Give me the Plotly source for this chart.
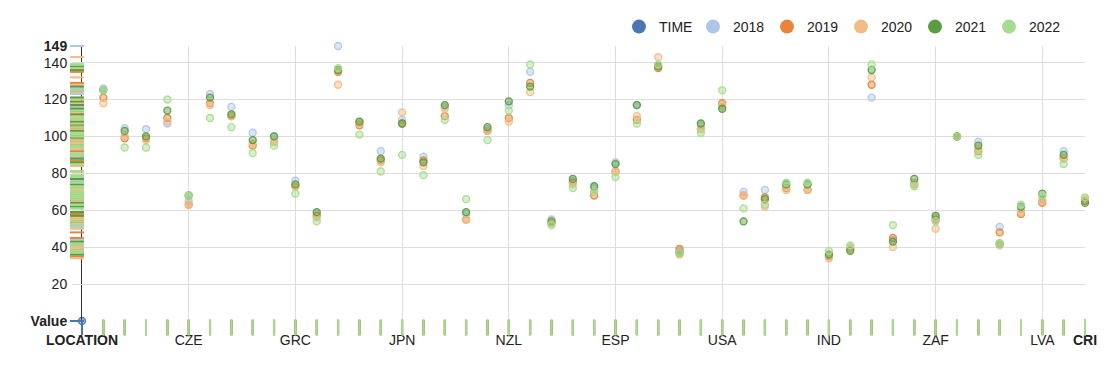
import plotly.graph_objects as go

W, H = 1113, 375
OFF = 8  # page offset of the figure inside the browser window

categories = ["AUS","AUT","BEL","CAN","CZE","DNK","FIN","FRA","DEU","GRC",
              "HUN","ISL","IRL","ITA","JPN","KOR","LUX","MEX","NLD","NZL",
              "NOR","POL","PRT","SVK","ESP","SWE","CHE","TUR","GBR","USA",
              "BRA","CHL","CHN","EST","IND","IDN","ISR","RUS","SVN","ZAF",
              "COL","LTU","ARG","BGR","LVA","ROU","CRI"]

v2018 = [126,104.5,104,107,65,123,116,102,100,76,58,149,108,92,109,89,116,58,104,117,
         135,55,76,72,86,117,138,38,106,116,70,71,74,74,36,40,121,44,75,56,
         100,97,51,61,66,92,65]
v2019 = [121,99,99,110,63,118,111,95,97,73,57,135,106,87,107,87,111,55,103,110,
         129,53,75,68,81,109,137,39,104,118,68,67,72,71,35,39,128,45,74,55,
         100,92,48,58,64,88,65]
v2020 = [118,100,98,108,63,117,111,96,97,73,56,128,107,86,113,84,115,55,103,108,
         124,53,74,70,81,111,143,36,104,117,68,62,71,71,34,39,132,40,74,50,
         100,93,41,59,65,88,66]
v2021 = [125,103,100,114,68,121,112,98,100,74,59,136,108,88,107,86,117,59,105,119,
         127,54,77,73,85,117,138,37,107,115,54,66,74,74,36,38,136,43,77,57,
         100,95,42,62,69,90,64]
v2022 = [125,94,94,120,68,110,105,91,95,69,54,137,101,81,90,79,109,66,98,114,
         139,52,72,70,78,107,139,37,102,125,61,63,75,75,38,41,139,52,73,54,
         100,90,42,63,68,85,67]
time_values = [0]

series_names = ["2018", "2019", "2020", "2021", "2022"]
series_values = [v2018, v2019, v2020, v2021, v2022]
colors = {"TIME": (74, 118, 178), "2018": (174, 199, 232), "2019": (232, 132, 59),
          "2020": (240, 189, 134), "2021": (90, 158, 63), "2022": (168, 219, 145)}

axis_label_x = "LOCATION"
axis_label_y = "Value"
y_max = max(max(s) for s in series_values)
y_ticks = [20, 40, 60, 80, 100, 120, 140]
x_label_idx = [0, 5, 10, 15, 20, 25, 30, 35, 40, 45, len(categories)]

def rgba(c, a):
    return f"rgba({c[0]},{c[1]},{c[2]},{a})"

def fx(px):
    return (px - OFF) / W

def fy(py):
    return 1 - (py - OFF) / H

positions = list(range(1, len(categories) + 1))
all_names = ["TIME"] + series_names
all_x = [[0]] + [positions] * len(series_names)
all_y = [time_values] + series_values

fig = go.Figure()

# rugs
for name, xs, ys in zip(all_names, all_x, all_y):
    c = colors[name]
    fig.add_trace(go.Scatter(x=[0] * len(ys), y=ys, xaxis="x2", yaxis="y", mode="markers",
                             marker=dict(symbol="line-ew", size=10, color=rgba(c, 1),
                                         line=dict(color=rgba(c, 1), width=2)),
                             showlegend=False, hoverinfo="skip", cliponaxis=False))
for name, xs, ys in zip(all_names, all_x, all_y):
    c = colors[name]
    fig.add_trace(go.Scatter(x=xs, y=[0] * len(xs), xaxis="x", yaxis="y2", mode="markers",
                             marker=dict(symbol="line-ns", size=11, color=rgba(c, 1),
                                         line=dict(color=rgba(c, 1), width=2)),
                             showlegend=False, hoverinfo="skip", cliponaxis=False))

# points
for name, xs, ys in zip(all_names, all_x, all_y):
    c = colors[name]
    fig.add_trace(go.Scatter(x=xs, y=ys, mode="markers", name=name, cliponaxis=False,
                             marker=dict(size=7, color=rgba(c, 0.45),
                                         line=dict(color=rgba(c, 0.95), width=1.3)),
                             showlegend=False))

# legend entries
for name in all_names:
    c = colors[name]
    fig.add_trace(go.Scatter(x=[None], y=[None], mode="markers", name=name,
                             marker=dict(size=14, color=rgba(c, 1)), showlegend=True))

x_ticktext = []
for i in x_label_idx:
    if i == 0:
        x_ticktext.append(f"<b>{axis_label_x}</b>")
    elif i == len(categories):
        x_ticktext.append(f"<b>{categories[i-1]}</b>")
    else:
        x_ticktext.append(categories[i - 1])

y_tickvals = [0] + y_ticks + [y_max]
y_ticktext = [f"<b>{axis_label_y}</b>"] + [str(v) for v in y_ticks] + [f"<b>{y_max:g}</b>"]

fig.update_layout(
    template="none",
    width=W, height=H, margin=dict(l=0, r=0, t=0, b=0, pad=0, autoexpand=False),
    plot_bgcolor="white", paper_bgcolor="white",
    font=dict(family="Liberation Sans, Arial, sans-serif", size=14, color="#222"),
    xaxis=dict(domain=[fx(82), fx(1085)], range=[0, len(categories)], tickvals=x_label_idx,
               ticktext=x_ticktext, showgrid=False, zeroline=False, showline=False,
               ticks="outside", ticklen=6, tickcolor="rgba(0,0,0,0)", automargin=False,
               minor=dict(tickvals=x_label_idx[1:-1], showgrid=True, gridcolor="#dedede",
                          gridwidth=1, ticks=""),
               anchor="y"),
    yaxis=dict(domain=[fy(321), fy(46)], range=[0, y_max], tickvals=y_tickvals,
               ticktext=y_ticktext,
               showgrid=False, zeroline=False, showline=True, linecolor="#333", linewidth=1,
               ticks="outside", ticklen=11, tickcolor="rgba(0,0,0,0)", automargin=False,
               minor=dict(tickvals=y_ticks, showgrid=True, gridcolor="#dedede",
                          gridwidth=1, ticks=""),
               anchor="x"),
    xaxis2=dict(domain=[fx(72), fx(82)], range=[-1, 1], visible=False, anchor="y",
                fixedrange=True, automargin=False),
    yaxis2=dict(domain=[fy(333), fy(322)], range=[-1, 1], visible=False,
                anchor="x", fixedrange=True, automargin=False),
    legend=dict(orientation="h", x=fx(1063), xanchor="right", y=fy(27),
                yanchor="middle", bgcolor="rgba(0,0,0,0)", font=dict(size=14),
                itemwidth=30, entrywidth=29, traceorder="normal"),
    hovermode="closest",
)

fig.write_html("out.html")
